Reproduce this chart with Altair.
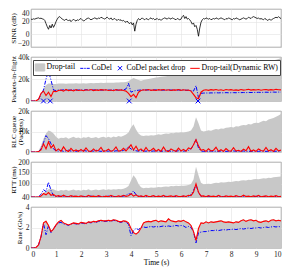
import altair as alt
import pandas as pd

TIME = [round(i * 0.1, 1) for i in range(101)]
SINR_T = [round(i * 0.05, 2) for i in range(201)]
XTICKS = list(range(11))

SINR = [24, 23.5, 24.5, 24, 25, 25.5, 26, 25, 25.5, 24.5,
        24, 22, 17, 12, 8, 14, 10, 16, 11, 15,
        20, 24, 27, 28, 26, 24, 23, 22, 24, 23,
        21, 23, 20, 22, 24, 22, 21, 23, 22, 24,
        25, 23, 21, 22, 24, 25, 26, 24, 23, 24,
        25, 26, 25, 24, 26, 25, 27, 26, 25, 24,
        26, 27, 25, 24, 26, 23, 24, 25, 23, 22,
        24, 22, 23, 21, 22, 20, 19, 21, 18, 17,
        19, 15, 18, 5, 16, 22, 25, 23, 24, 26,
        24, 23, 25, 24, 23, 25, 26, 24, 25, 23,
        24, 25, 23, 24, 22, 24, 25, 26, 25, 24,
        26, 25, 24, 26, 25, 24, 23, 25, 24, 23,
        24, 28, 30, 25, 28, 24, 25, 23, 20, 16,
        18, 12, 14, 8, -3, 10, 19, 23, 25, 24,
        26, 25, 24, 25, 23, 24, 25, 24, 26, 25,
        24, 25, 26, 25, 24, 23, 25, 24, 26, 25,
        24, 23, 25, 24, 26, 25, 24, 23, 24, 25,
        26, 25, 24, 25, 27, 26, 25, 27, 28, 27,
        26, 25, 26, 24, 25, 24, 23, 25, 24, 22,
        23, 24, 22, 24, 25, 26, 27, 26, 28, 26,
        25]

# Packets-in-flight (thousands)
PKT_DROPTAIL = [0, 0, 0.3, 2, 6, 11, 14.5, 16, 16, 15.5,
                15.5, 16, 15.8, 16, 15.7, 15.8, 16, 15.9, 16.1, 16,
                16, 16.2, 16, 16.1, 16.3, 16.2, 16.4, 16.3, 16.5, 16.4,
                16.5, 16.6, 16.5, 16.7, 16.8, 16.9, 17, 17, 17.3, 18,
                19.5, 21, 20, 19, 18.5, 19, 19.5, 20, 20.5, 21,
                21.3, 21.6, 22, 22.3, 22.6, 23, 23.3, 23.6, 24, 24.3,
                24.6, 25, 25.3, 25.6, 26, 27, 29, 28, 26.5, 26.5,
                26.8, 27, 27.3, 27.6, 28, 28.3, 28.6, 29, 29.3, 29.6,
                30, 30.3, 30.6, 31, 31.3, 31.7, 32, 32.4, 32.8, 33.2,
                33.6, 34, 34.5, 35, 35.5, 36, 36.5, 37, 37.6, 38.2,
                39]
PKT_CODEL = [0, 0, 0.2, 1.5, 6, 10, 20, 27, 19, 10,
             9.5, 10, 9.8, 10.2, 9.7, 10, 9.9, 10.3, 9.8, 10,
             10.1, 9.9, 10.2, 10, 9.8, 10.1, 10, 10.2, 9.9, 10,
             10.1, 10, 9.8, 10.2, 10, 9.9, 10.1, 10, 11, 16,
             8, 9, 9.5, 9.8, 10, 9.9, 10.1, 10, 9.8, 10,
             10.1, 9.9, 10, 9.8, 10, 10.1, 9.9, 10, 9.8, 10,
             9.9, 10, 9.8, 9.7, 9.5, 9, 14, 3, 7, 7.2,
             7.3, 7.2, 7.4, 7.3, 7.5, 7.4, 7.5, 7.4, 7.6, 7.5,
             7.5, 7.6, 7.5, 7.7, 7.6, 7.7, 7.6, 7.8, 7.7, 7.8,
             7.8, 7.9, 7.8, 7.9, 8, 7.9, 8, 8.1, 8, 8.1,
             8.1]
PKT_DYNRW = [0, 0, 0.2, 1.5, 7, 9, 5, 8, 4, 9,
             8.5, 9.5, 10, 9, 10.5, 9.5, 10, 9.2, 10.3, 9.6,
             10, 9.4, 10.2, 9.8, 10.4, 9.5, 10.1, 9.7, 10.3, 9.9,
             10.2, 9.6, 10, 9.4, 10.3, 9.8, 10.1, 9.5, 9, 7,
             4, 6, 3, 8, 9.5, 10.2, 9.8, 10.4, 9.7, 10.1,
             9.6, 10.3, 9.9, 10.5, 9.8, 10.2, 9.5, 10.1, 9.9, 10.4,
             9.7, 10.2, 9.8, 10, 9, 6, 3, 2, 8, 9.8,
             10.2, 9.7, 10.3, 9.9, 10.5, 9.8, 10.2, 9.6, 10.4, 10,
             10.3, 9.8, 10.1, 9.7, 10.4, 9.9, 10.2, 10.6, 9.9, 10.3,
             10, 10.4, 9.8, 10.2, 10.5, 9.9, 10.3, 10, 10.6, 10.2,
             10.1]
DROP_T = [0.5, 0.77, 3.93, 6.68]
DROP_V = [0, 0, 0, 0]

# RLC queue (thousands of packets)
RLC_DROPTAIL = [0, 0, 0, 0.5, 3, 6.5, 9, 10.5, 10, 9,
                7.5, 6.5, 7, 6.8, 7.2, 6.5, 7, 7.4, 6.8, 7.1,
                6.6, 7.2, 6.9, 7.5, 6.8, 7, 7.3, 6.7, 7.2, 7.5,
                7, 7.4, 6.9, 7.6, 7.2, 7.8, 7.4, 7.9, 8.5, 9.5,
                12, 13.5, 11, 9, 8, 7.8, 8, 7.9, 8.2, 8.1,
                8.3, 8.6, 8.4, 8.8, 9, 8.9, 9.3, 9.1, 9.5, 9.4,
                9.6, 9.5, 9.8, 10, 10.5, 12.5, 17, 14, 10.5, 10,
                10.3, 10.6, 10.4, 10.9, 11.2, 11, 11.5, 11.3, 11.8, 12,
                12.2, 12, 12.6, 12.4, 12.9, 13.2, 13, 13.6, 13.4, 14,
                14.3, 14.1, 14.8, 15.2, 15, 15.8, 16.2, 16.6, 17.2, 17.8,
                18.5]
RLC_CODEL = [0, 0, 0, 0.2, 1.5, 4.5, 8, 6.5, 4, 1.5,
             0.6, 0.4, 0.8, 0.3, 0.5, 0.9, 0.4, 0.6, 0.3, 0.7,
             0.4, 0.8, 0.5, 0.3, 0.6, 0.4, 0.9, 0.5, 0.3, 0.6,
             0.5, 0.4, 0.7, 0.3, 0.6, 0.5, 0.4, 0.8, 1.5, 2.5,
             1.5, 0.8, 0.6, 0.4, 0.7, 0.5, 0.4, 0.6, 0.3, 0.5,
             0.4, 0.6, 0.3, 0.5, 0.4, 0.7, 0.3, 0.5, 0.4, 0.6,
             0.5, 0.4, 0.6, 0.8, 1.5, 3.5, 6, 2, 0.5, 0.3,
             0.4, 0.3, 0.5, 0.3, 0.4, 0.3, 0.5, 0.4, 0.3, 0.4,
             0.3, 0.5, 0.4, 0.3, 0.4, 0.5, 0.3, 0.4, 0.3, 0.5,
             0.4, 0.3, 0.5, 0.4, 0.3, 0.4, 0.5, 0.3, 0.4, 0.3,
             0.4]
RLC_DYNRW = [0, 0, 0, 0.2, 1, 4, 1.5, 5, 2, 3.5,
             0.5, 1.5, 0.3, 2.5, 0.8, 0.2, 1.8, 0.4, 1, 0.3,
             1.2, 0.3, 2, 0.5, 0.2, 1.5, 0.4, 0.8, 2.2, 0.3,
             0.6, 1.4, 0.3, 0.9, 2.5, 0.4, 0.7, 1.8, 0.5, 2,
             3.5, 1, 2.8, 0.6, 1.5, 0.3, 2.2, 0.5, 0.9, 1.8,
             0.4, 1.2, 0.3, 2.4, 0.6, 0.2, 1.5, 0.8, 0.3, 1.9,
             0.5, 1.3, 0.4, 2, 1.5, 3.5, 6, 3, 0.8, 1.2,
             0.3, 1.6, 0.5, 0.9, 2.3, 0.4, 1.1, 0.3, 1.7, 0.6,
             0.4, 2.1, 0.5, 0.8, 0.3, 1.4, 0.6, 2.6, 0.4, 1,
             0.3, 1.5, 0.7, 0.4, 2.2, 0.5, 1.1, 0.3, 1.8, 0.6,
             0.9]

# RTT (ms)
RTT_DROPTAIL = [40, 40, 40, 41, 46, 58, 68, 76, 78, 75,
                70, 68, 72, 70, 73, 69, 71, 74, 70, 72,
                69, 73, 71, 75, 70, 72, 74, 71, 73, 76,
                72, 75, 73, 76, 74, 77, 75, 78, 82, 90,
                115, 140, 125, 100, 85, 80, 82, 81, 83, 82,
                84, 86, 85, 87, 88, 87, 90, 89, 91, 90,
                92, 91, 93, 95, 100, 120, 178, 140, 105, 98,
                99, 101, 100, 103, 105, 104, 107, 106, 108, 110,
                109, 111, 113, 112, 115, 117, 116, 119, 118, 121,
                122, 121, 124, 126, 125, 128, 127, 130, 131, 133,
                134]
RTT_CODEL = [40, 40, 40, 41, 52, 73, 65, 108, 70, 46,
             43, 42, 44, 42, 43, 41, 42, 44, 42, 43,
             42, 43, 41, 42, 44, 42, 43, 42, 41, 43,
             42, 44, 42, 43, 41, 42, 43, 44, 48, 55,
             52, 68, 50, 44, 43, 42, 43, 42, 41, 43,
             42, 43, 41, 42, 43, 42, 41, 43, 42, 41,
             42, 43, 42, 44, 50, 70, 96, 60, 44, 42,
             41, 42, 43, 41, 42, 43, 42, 41, 42, 43,
             42, 41, 43, 42, 41, 42, 43, 42, 41, 42,
             43, 42, 41, 42, 43, 42, 41, 42, 43, 42,
             42]
RTT_DYNRW = [40, 40, 40, 40, 44, 56, 50, 60, 48, 52,
             43, 46, 41, 48, 42, 41, 46, 42, 44, 41,
             45, 42, 41, 47, 42, 44, 41, 46, 42, 41,
             44, 41, 47, 42, 41, 45, 42, 48, 43, 46,
             55, 44, 50, 42, 45, 41, 47, 42, 43, 46,
             41, 44, 42, 47, 41, 43, 45, 41, 46, 42,
             42, 45, 42, 48, 46, 62, 100, 62, 44, 45,
             41, 46, 42, 44, 41, 47, 42, 41, 45, 42,
             44, 41, 46, 42, 41, 48, 42, 44, 41, 45,
             42, 47, 41, 43, 45, 41, 44, 42, 46, 41,
             43]

# Rate (Gb/s)
RATE_DROPTAIL = [0, 0, 0.05, 0.3, 1.2, 2.5, 2.7, 2.3, 1.7, 1.9,
                 2.3, 2.6, 2.75, 2.5, 2.4, 2.3, 2.4, 2.5, 2.45, 2.4,
                 2.55, 2.5, 2.45, 2.6, 2.55, 2.65, 2.6, 2.7, 2.75, 2.7,
                 2.7, 2.75, 2.7, 2.8, 2.75, 2.65, 2.6, 2.7, 2.65, 2.5,
                 2.0, 1.6, 1.4, 1.6, 2.0, 2.5, 2.6, 2.65, 2.6, 2.7,
                 2.75, 2.6, 2.7, 2.65, 2.6, 2.9, 2.7, 2.65, 2.6, 2.7,
                 2.65, 2.75, 2.6, 2.5, 2.3, 1.8, 0.9, 2.0, 2.5, 2.45,
                 2.6, 2.5, 2.6, 2.55, 2.6, 2.65, 2.7, 2.6, 2.55, 2.6,
                 2.55, 2.5, 2.6, 2.55, 2.7, 2.8, 2.65, 2.75, 2.8, 2.7,
                 2.75, 2.6, 2.55, 2.65, 2.7, 2.6, 2.75, 2.8, 2.7, 2.75,
                 2.7]
RATE_CODEL = [0, 0, 0.05, 0.3, 1.1, 2.4, 1.3, 2.2, 1.5, 1.9,
              2.2, 2.45, 2.5, 2.35, 2.3, 2.2, 2.35, 2.4, 2.35, 2.3,
              2.45, 2.4, 2.35, 2.5, 2.45, 2.55, 2.5, 2.6, 2.65, 2.6,
              2.6, 2.65, 2.6, 2.7, 2.65, 2.55, 2.5, 2.6, 2.55, 2.3,
              1.2, 1.7, 1.9, 1.8, 2.0, 2.05, 2.0, 2.05, 2.1, 2.05,
              2.1, 2.05, 2.1, 2.15, 2.1, 2.15, 2.1, 2.15, 2.2, 2.15,
              2.2, 2.15, 2.0, 2.1, 2.0, 1.6, 0.5, 1.5, 1.55, 1.6,
              1.6, 1.65, 1.7, 1.7, 1.75, 1.7, 1.75, 1.8, 1.75, 1.8,
              1.8, 1.85, 1.8, 1.85, 1.9, 1.85, 1.9, 1.95, 1.9, 1.95,
              1.95, 2.0, 1.95, 2.0, 2.05, 2.0, 2.05, 2.1, 2.05, 2.1,
              2.05]
RATE_DYNRW = [0, 0, 0.05, 0.3, 1.1, 2.45, 2.6, 2.2, 1.6, 1.85,
              2.25, 2.55, 2.7, 2.45, 2.35, 2.25, 2.35, 2.45, 2.4, 2.35,
              2.5, 2.45, 2.4, 2.55, 2.5, 2.6, 2.55, 2.65, 2.7, 2.65,
              2.65, 2.7, 2.65, 2.75, 2.7, 2.6, 2.55, 2.65, 2.6, 2.45,
              1.9, 1.5, 1.35, 1.55, 1.95, 2.45, 2.55, 2.6, 2.55, 2.65,
              2.7, 2.55, 2.65, 2.6, 2.55, 2.85, 2.65, 2.6, 2.55, 2.65,
              2.6, 2.7, 2.55, 2.45, 2.2, 1.6, 0.75, 1.9, 2.45, 2.4,
              2.55, 2.45, 2.55, 2.5, 2.55, 2.6, 2.65, 2.55, 2.5, 2.55,
              2.5, 2.45, 2.55, 2.5, 2.65, 2.75, 2.6, 2.7, 2.75, 2.65,
              2.7, 2.55, 2.5, 2.6, 2.65, 2.55, 2.7, 2.75, 2.65, 2.7,
              2.65]

LEGEND = ["Drop-tail", "CoDel", "CoDel packet drop", "Drop-tail(Dynamic RW)"]

FONT = "Liberation Serif"
W = 250
BLUE = "#0000ff"
RED = "#ff0000"
GRAY = "#c8c8c8"
DASH = [4, 1.5, 1, 1.5]

SHAPES = ["M-1,-0.75H1V0.75H-1Z",
          "M-1,0H-0.35M-0.15,0H0.15M0.35,0H1",
          "M-0.45,-0.45L0.45,0.45M0.45,-0.45L-0.45,0.45",
          "M-1,0H1"]
STROKES = [GRAY, BLUE, BLUE, RED]
FILLS = [GRAY, "transparent", "transparent", "transparent"]


def frame(vals, t=None):
    return pd.DataFrame({"t": TIME if t is None else t, "v": vals})


def xenc(last=False):
    sc = alt.Scale(domain=[0, 10], nice=False)
    if last:
        return alt.X("t:Q", scale=sc,
                     axis=alt.Axis(values=XTICKS, title="Time (s)", labelPadding=2, titlePadding=1,
                                   titleFontSize=7.5))
    return alt.X("t:Q", scale=sc, title=None, axis=alt.Axis(values=XTICKS, labels=False))


def yenc(domain, values, title, tx, expr=None, flush=False):
    kw = dict(values=values, title=title, titleX=tx)
    if expr:
        kw["labelExpr"] = expr
    if flush:
        kw["labelFlush"] = True
    return alt.Y("v:Q", scale=alt.Scale(domain=domain, nice=False, zero=False), axis=alt.Axis(**kw))


def triple(gray, blue, red, y, h, last=False, extra=None):
    x = xenc(last)
    a = alt.Chart(frame(gray)).mark_area(color=GRAY, clip=True).encode(x=x, y=y)
    b = alt.Chart(frame(blue)).mark_line(color=BLUE, strokeWidth=1, strokeDash=DASH, clip=True).encode(x=x, y=y)
    r = alt.Chart(frame(red)).mark_line(color=RED, strokeWidth=1.1, clip=True).encode(x=x, y=y)
    layers = [a, b, r]
    if extra is not None:
        layers.append(extra(x, y))
    return alt.layer(*layers).properties(width=W, height=h)


sinr = alt.Chart(frame(SINR, SINR_T)).mark_line(color="black", strokeWidth=0.8).encode(
    x=xenc(), y=yenc([-20, 40], [-20, 0, 20, 40], "SINR (dB)", -15, flush=True)
).properties(width=W, height=38)

KEXPR = "datum.value == 0 ? '0' : datum.value + 'k'"

leg = alt.Legend(title=None, orient="none", legendX=2, legendY=3, direction="horizontal",
                 labelFont=FONT, labelFontSize=7.8, labelColor="#000", symbolSize=90,
                 symbolStrokeWidth=1, padding=1.5, strokeColor="#444", fillColor="white",
                 columnPadding=2, labelOffset=1, cornerRadius=0)


def drops(x, y):
    df = pd.DataFrame({"t": DROP_T, "v": DROP_V, "series": ["CoDel packet drop"] * len(DROP_T)})
    return alt.Chart(df).mark_point(size=110, strokeWidth=1, opacity=1).encode(
        x=x, y=y,
        shape=alt.Shape("series:N", scale=alt.Scale(domain=LEGEND, range=SHAPES), legend=leg),
        stroke=alt.Stroke("series:N", scale=alt.Scale(domain=LEGEND, range=STROKES), legend=leg),
        fill=alt.Fill("series:N", scale=alt.Scale(domain=LEGEND, range=FILLS), legend=leg),
    )


pkts = triple(PKT_DROPTAIL, PKT_CODEL, PKT_DYNRW,
              yenc([0, 40], [0, 20, 40], "Packets-in-flight", -15, KEXPR), 44, extra=drops)
rlc = triple(RLC_DROPTAIL, RLC_CODEL, RLC_DYNRW,
             yenc([0, 20], [0, 10, 20], ["RLC queue", "(Packets)"], -14.5, KEXPR), 41)
rtt = triple(RTT_DROPTAIL, RTT_CODEL, RTT_DYNRW,
             yenc([40, 200], [40, 100, 150, 200], "RTT (ms)", -15), 35)
rate = triple(RATE_DROPTAIL, RATE_CODEL, RATE_DYNRW,
              yenc([0, 4], [0, 2, 4], "Rate (Gb/s)", -9), 41, last=True)

chart = alt.vconcat(sinr, pkts, rlc, rtt, rate, spacing=10, bounds="flush",
                    padding={"left": 0, "top": 0, "right": 0, "bottom": 0}).resolve_scale(
    shape="independent", fill="independent", stroke="independent"
).resolve_legend(
    shape="independent", fill="independent", stroke="independent"
).configure(
    font=FONT
).configure_axis(
    labelFont=FONT, titleFont=FONT, labelFontSize=7.5, titleFontSize=7,
    titleFontWeight="normal", labelColor="#222", titleColor="#000",
    titleLineHeight=7,
    gridColor="#e2e2e2", gridWidth=0.6, ticks=False, domain=False,
    labelPadding=2, titlePadding=2
).configure_view(stroke="#666", strokeWidth=0.8)

chart.save("out.html", embed_options={"renderer": "svg", "actions": False})
